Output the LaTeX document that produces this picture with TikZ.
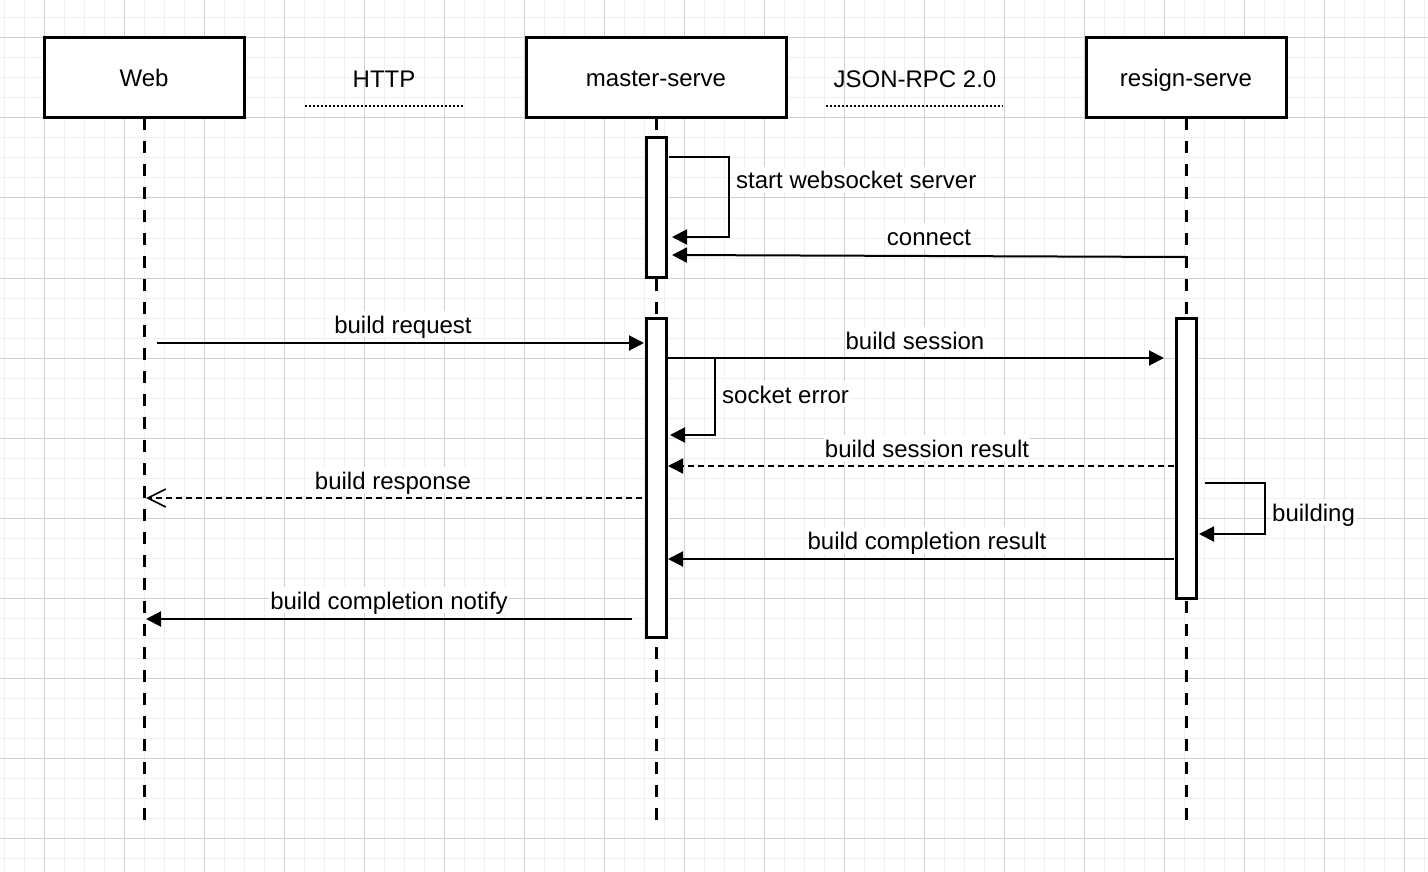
\documentclass[tikz,border=0pt]{standalone}
\usepackage{fontspec}
\setmainfont{Liberation Sans}
\usetikzlibrary{arrows.meta}
\definecolor{gmaj}{HTML}{D0D0D0}
\definecolor{gmin}{HTML}{EFEFEF}
\begin{document}
\begin{tikzpicture}[x=1pt,y=-1pt,
  txt/.style={font=\fontsize{24}{28}\selectfont, inner sep=1pt, text height=21pt, text depth=3pt},
  lbl/.style={txt, fill=white},
  actor/.style={draw, line width=3pt, fill=white, minimum width=200pt, minimum height=80pt, inner sep=0pt, outer sep=0pt, font=\fontsize{24}{28}\selectfont, text height=21pt, text depth=3pt},
  actbar/.style={draw, line width=3pt, fill=white, minimum width=20pt, inner sep=0pt, outer sep=0pt},
  life/.style={line width=3pt, dash pattern=on 12pt off 11pt},
  msg/.style={line width=2pt, -{Triangle[length=15pt,width=15pt]}},
  retmsg/.style={line width=1.6pt, dash pattern=on 6pt off 4pt, -{Triangle[length=15pt,width=15pt]}},
  openmsg/.style={line width=1.6pt, dash pattern=on 6pt off 4pt, -{Straight Barb[length=18pt,width=18pt,line width=1.6pt]}},
  uline/.style={line width=2pt, dash pattern=on 2pt off 2pt},
]
\fill[white] (0,0) rectangle (1428,872);
\useasboundingbox (0,0) rectangle (1428,872);
% grid
\foreach \x in {4,24,...,1424} \draw[gmin, line width=1pt] (\x,0) -- (\x,872);
\foreach \y in {18,38,...,870} \draw[gmin, line width=1pt] (0,\y) -- (1428,\y);
\foreach \x in {44,124,...,1424} \draw[gmaj, line width=1pt] (\x,0) -- (\x,872);
\foreach \y in {38,118,...,870} \draw[gmaj, line width=1pt] (0,\y) -- (1428,\y);

% actors
\node[actor] (web) at (144,78) {Web};
\node[actor, minimum width=260pt] (master) at (656,78) {master-serve};
\node[actor] (resign) at (1186,78) {resign-serve};

% protocol labels
\node[txt] (http) at (384,79) {HTTP};
\node[txt] (jsonrpc) at (915,79) {JSON-RPC 2.0};
\coordinate (h1) at (305,106); \coordinate (h2) at (463,106);
\coordinate (j1) at (826,106); \coordinate (j2) at (1003,106);
\draw[uline] (h1) -- (h2);
\draw[uline] (j1) -- (j2);

% lifelines
\coordinate (webend) at (144,828);
\coordinate (masterend) at (656,828);
\coordinate (resignend) at (1186,828);
\draw[life] (web.south) -- (webend);
\draw[life] (master.south) -- (masterend);
\draw[life] (resign.south) -- (resignend);

% activation bars
\node[actbar, minimum height=139pt] (m1) at (656,207.5) {};
\node[actbar, minimum height=319pt] (m2) at (656,477.5) {};
\node[actbar, minimum height=280pt] (r1) at (1186,458) {};

% start websocket server (self)
\coordinate (sa) at (669,157); \coordinate (sb) at (729,157);
\coordinate (sc) at (729,237); \coordinate (sd) at (672,237);
\draw[msg] (sa) -- (sb) -- (sc) -- (sd);
\node[lbl, anchor=west] (lstart) at (735,180) {start websocket server};

% connect
\coordinate (ca) at (1186,257); \coordinate (cb) at (672,255);
\draw[msg] (ca) -- (cb);
\node[lbl] (lconnect) at (929,236) {connect};

% build request
\coordinate (ra) at (157,343); \coordinate (rb) at (644,343);
\draw[msg] (ra) -- (rb);
\node[lbl] (lreq) at (403,324) {build request};

% build session
\coordinate (bsa) at (666,358); \coordinate (bsb) at (1164,358);
\draw[msg] (bsa) -- (bsb);
\node[lbl] (lsess) at (915,340) {build session};

% socket error (self)
\coordinate (ea) at (666,358); \coordinate (eb) at (715,358);
\coordinate (ec) at (715,435); \coordinate (ed) at (670,435);
\draw[msg] (ea) -- (eb) -- (ec) -- (ed);
\node[lbl, anchor=west] (lerr) at (721,394) {socket error};

% build session result
\coordinate (bra) at (1174,466); \coordinate (brb) at (668,466);
\draw[retmsg] (bra) -- (brb);
\node[lbl] (lsessres) at (927,448) {build session result};

% build response
\coordinate (rsa) at (642,498); \coordinate (rsb) at (146,498);
\draw[openmsg] (rsa) -- (rsb);
\node[lbl] (lresp) at (393,480) {build response};

% building (self)
\coordinate (ga) at (1205,483); \coordinate (gb) at (1265,483);
\coordinate (gc) at (1265,534); \coordinate (gd) at (1199,534);
\draw[msg] (ga) -- (gb) -- (gc) -- (gd);
\node[lbl, anchor=west] (lbuild) at (1271,512) {building};

% build completion result
\coordinate (cra) at (1174,559); \coordinate (crb) at (668,559);
\draw[msg] (cra) -- (crb);
\node[lbl] (lcompres) at (927,540) {build completion result};

% build completion notify
\coordinate (na) at (632,619); \coordinate (nb) at (146,619);
\draw[msg] (na) -- (nb);
\node[lbl] (lnotify) at (389,600) {build completion notify};
\end{tikzpicture}
\end{document}
